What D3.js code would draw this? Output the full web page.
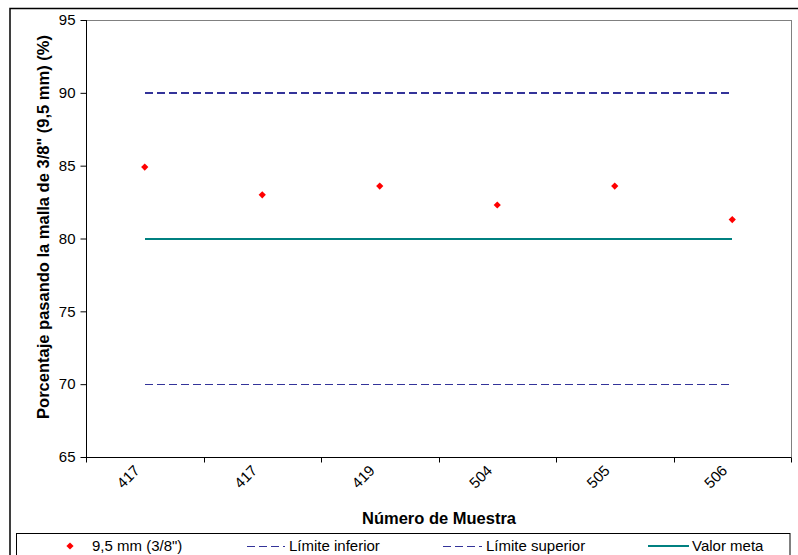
<!DOCTYPE html>
<html><head><meta charset="utf-8">
<script src="https://cdn.jsdelivr.net/npm/d3@7"></script>
<style>body{margin:0;background:#fff}svg{display:block;font-family:"Liberation Sans",Arial,sans-serif}</style>
</head><body>
<svg id="c" width="798" height="555"></svg>
<script>
const categories = ["417","417","419","504","505","506"];
const sampleValues = [84.9, 83.0, 83.6, 82.3, 83.6, 81.3];
const lowerLimit = [70,70,70,70,70,70];
const upperLimit = [90,90,90,90,90,90];
const targetValue = [80,80,80,80,80,80];
const yTicks = [65,70,75,80,85,90,95];
const legendLabels = ["9,5 mm (3/8\")","Límite inferior","Límite superior","Valor meta"];

const svg = d3.select("#c");
const L=86, R=791, T=20, B=457;
const x = d3.scaleBand().domain(d3.range(categories.length)).range([L,R]);
const y = d3.scaleLinear().domain([65,95]).range([B,T]);
const cx = i => x(i)+x.bandwidth()/2;

// outer border
svg.append("rect").attr("x",10).attr("y",8.5).attr("width",800).attr("height",560)
  .attr("fill","none").attr("stroke","#000").attr("stroke-width",1.5);
// plot frame
svg.append("rect").attr("x",L+0.5).attr("y",T+0.5).attr("width",R-L).attr("height",B-T)
  .attr("fill","none").attr("stroke","#808080").attr("stroke-width",1);

// y axis
const ya = svg.append("g").attr("transform",`translate(${L+0.5},0)`)
  .call(d3.axisLeft(y).tickValues(yTicks).tickSize(6).tickPadding(5));
ya.selectAll("text").attr("font-size",15).attr("fill","#000").attr("font-family","Liberation Sans, Arial");
ya.select(".domain").attr("stroke","#000").attr("d",`M0,${T}V${B}`);
ya.selectAll("line").attr("stroke","#000");

// x axis
const xa = svg.append("g").attr("transform",`translate(0,${B+0.5})`);
xa.append("line").attr("x1",L).attr("x2",R).attr("y1",0).attr("y2",0).attr("stroke","#000");
xa.selectAll(".tk").data(d3.range(categories.length+1)).enter().append("line")
  .attr("x1",i=>Math.round(L+i*x.bandwidth())+0.5).attr("x2",i=>Math.round(L+i*x.bandwidth())+0.5).attr("y1",0).attr("y2",5).attr("stroke","#000");
xa.selectAll(".lb").data(categories).enter().append("text")
  .attr("transform",(d,i)=>`translate(${cx(i)-4},${14}) rotate(-45)`)
  .attr("text-anchor","end").attr("font-size",15).attr("fill","#000").text(d=>d);

// axis titles
svg.append("text").attr("x",439).attr("y",524).attr("text-anchor","middle")
  .attr("font-weight","bold").attr("font-size",16.5).text("Número de Muestra");
svg.append("text").attr("transform",`translate(49,227) rotate(-90)`).attr("text-anchor","middle")
  .attr("font-weight","bold").attr("font-size",16.5).text("Porcentaje pasando la malla de 3/8\" (9,5 mm) (%)");

const line = d3.line().x((d,i)=>cx(i)).y(d=>Math.round(y(d))+0.5);
svg.append("path").datum(lowerLimit).attr("d",line).attr("fill","none").attr("stroke","#333399").attr("stroke-width",1).attr("stroke-dasharray","8,4").attr("shape-rendering","crispEdges");
svg.append("path").datum(upperLimit).attr("d",d3.line().x((d,i)=>cx(i)).y(d=>Math.round(y(d)))).attr("fill","none").attr("stroke","#333399").attr("stroke-width",2).attr("stroke-dasharray","8,4").attr("shape-rendering","crispEdges");
svg.append("path").datum(targetValue).attr("d",d3.line().x((d,i)=>cx(i)).y(d=>Math.round(y(d)))).attr("fill","none").attr("stroke","#008080").attr("stroke-width",2).attr("shape-rendering","crispEdges");

const diamond = d3.symbol().type(d3.symbolSquare).size(26);
svg.selectAll(".pt").data(sampleValues).enter().append("path")
  .attr("d",diamond).attr("transform",(d,i)=>`translate(${cx(i)},${y(d)}) rotate(45)`).attr("fill","#ff0000");

// legend
svg.append("rect").attr("x",16.5).attr("y",533.5).attr("width",773.5).attr("height",40)
  .attr("fill","#fff").attr("stroke","#000").attr("stroke-width",1);
const lg = svg.append("g");
const ly = 546;
lg.append("path").attr("d",diamond).attr("transform",`translate(70,${ly}) rotate(45)`).attr("fill","#ff0000");
lg.append("line").attr("x1",247).attr("x2",285).attr("y1",ly+0.5).attr("y2",ly+0.5).attr("stroke","#333399").attr("stroke-dasharray","8,4").attr("shape-rendering","crispEdges");
lg.append("line").attr("x1",443).attr("x2",482).attr("y1",ly+0.5).attr("y2",ly+0.5).attr("stroke","#333399").attr("stroke-dasharray","8,4").attr("shape-rendering","crispEdges");
lg.append("line").attr("x1",648).attr("x2",689).attr("y1",ly).attr("y2",ly).attr("stroke","#008080").attr("stroke-width",2.5).attr("shape-rendering","crispEdges");
const lx = [92,289,486,692];
lg.selectAll(".lt").data(legendLabels).enter().append("text")
  .attr("x",(d,i)=>lx[i]).attr("y",ly+5).attr("font-size",15).attr("fill","#000").text(d=>d);
</script>
</body></html>
